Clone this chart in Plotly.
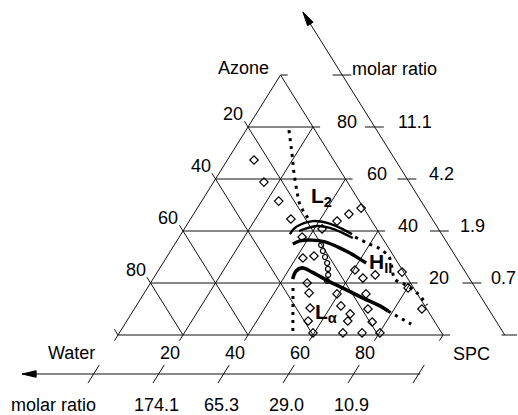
import math
import plotly.graph_objects as go

# ---------------- data (ternary %, Water = 100 - Azone - SPC) ----------------
tick_levels = [0, 20, 40, 60, 80, 100]
water_label_levels = [20, 40, 60, 80]
water_tick_labels = ["20", "40", "60", "80"]
spc_label_levels = [20, 40, 60, 80]
spc_tick_labels = ["20", "40", "60", "80"]
azone_label_levels = [80, 60, 40, 20]
azone_tick_labels = ["80", "60", "40", "20"]
azone_molar_labels = ["11.1", "4.2", "1.9", "0.7"]
spc_molar_labels = ["174.1", "65.3", "29.0", "10.9"]

# open diamonds: measured compositions
diamond_azone = [67.3, 58.8, 51.5, 44.6, 37.7, 40.8, 43.8, 46.5, 48.8,
                 29.6, 30.4, 25.0, 21.9, 23.1, 24.2, 18.1, 10.0,
                 20.0, 16.2, 10.4, 5.4, 0.8, 15.8, 11.2, 8.1, 5.4,
                 0.8, 0.8, 0.8, 10.0, 15.8, 5.0]
diamond_spc = [8.2, 15.5, 23.7, 30.9, 37.8, 42.4, 45.5, 47.8, 50.4,
               42.1, 45.1, 60.4, 64.4, 67.6, 75.3, 80.2, 88.5,
               48.2, 50.7, 53.9, 55.8, 59.6, 59.5, 63.0, 67.4, 68.0,
               68.8, 74.7, 80.2, 71.9, 68.4, 75.7]

# L2 boundary (dotted)
l2_dot_azone = [78.8, 70.0, 62.3, 55.0, 50.0, 46.9, 43.5]
l2_dot_spc = [13.2, 18.5, 23.0, 27.6, 31.0, 34.0, 37.5]
# double boundary line
dbl_top_azone = [38.8, 41.5, 43.8, 43.1, 41.2, 38.8]
dbl_top_spc = [33.5, 34.0, 38.1, 42.8, 47.7, 52.6]
dbl_bot_azone = [40.0, 41.9, 41.2, 39.2, 37.3]
dbl_bot_spc = [35.7, 40.2, 44.6, 49.6, 53.6]
# thick boundaries
mid_azone = [35.0, 36.2, 36.5, 35.8, 33.8, 31.5, 27.7]
mid_spc = [36.3, 37.9, 41.4, 45.8, 50.8, 55.6, 62.5]
low_azone = [21.5, 24.6, 25.8, 24.2, 20.4, 17.3, 14.2, 11.2, 9.2]
low_spc = [43.0, 42.5, 43.7, 47.6, 55.0, 61.8, 68.3, 75.0, 78.5]
low_dot_azone = [9.2, 4.2]
low_dot_spc = [78.5, 88.1]
# L-alpha left boundary (dotted)
la_dot_azone = [18.1, 0.0]
la_dot_spc = [44.8, 53.8]
# HII boundary (dotted)
h_dot_azone = [37.7, 35.4, 33.1, 30.0, 25.8, 21.5, 19.6, 15.8, 11.5]
h_dot_spc = [54.1, 58.9, 64.1, 68.4, 71.4, 74.4, 78.2, 84.4, 89.3]
# chain of small circles
circ_azone = [34.6, 32.3, 30.0, 27.7, 25.4, 23.1, 20.8]
circ_spc = [45.2, 46.9, 48.7, 50.5, 51.9, 53.1, 53.9]

# ---------------- geometry ----------------
FONT = "Liberation Sans, Arial, Helvetica, sans-serif"
W, H = 518, 415
KX, KY = 3.25, 2.6          # pixels per unit
PX0, PY0 = 118.0, 335.0     # pixel of the Water corner


def xy(a, s):
    return s + a / 2.0, a


def tern(a_list, s_list):
    xs, ys = [], []
    for a, s in zip(a_list, s_list):
        x, y = xy(a, s)
        xs.append(x)
        ys.append(y)
    return xs, ys


def ux(px):
    return (px - PX0) / KX


def uy(py):
    return (PY0 - py) / KY


def topx(x, y):
    return PX0 + x * KX, PY0 - y * KY


EXT = 2.2
gx, gy = [], []


def add(p, q, xs=gx, ys=gy):
    xs.extend([p[0], q[0], None])
    ys.extend([p[1], q[1], None])


for lv in tick_levels:
    add(xy(lv, 0), xy(lv, 100 - lv + EXT))            # constant Azone
    if lv > 0:
        add(xy(0, 100 - lv), xy(100 - lv + EXT, -EXT))  # constant Water
    else:
        add(xy(0, 100), xy(100, 0))                    # right edge
    add(xy(100 - lv, lv), xy(-EXT, lv))                # constant SPC

# right molar-ratio axis (parallel to right edge)
RW = -19.0
A_TIP = 124.2
ax_x, ax_y = [], []
p0 = xy(0, 100 - RW)
p1 = xy(A_TIP, 100 - RW - A_TIP)
add(p0, p1, ax_x, ax_y)
for lv in tick_levels:
    xc = xy(lv, 100 - RW - lv)[0]
    if lv == 0:
        add((xc - 1.0, lv), (xc + 3.8, lv), ax_x, ax_y)
    else:
        add((xc - 3.0, lv), (xc + 2.8, lv), ax_x, ax_y)

# bottom molar-ratio axis
AB = -15.0
b0 = xy(AB, 100.5)
b1 = xy(AB, -22.0)
add(b0, b1, ax_x, ax_y)
for lv in tick_levels:
    add(xy(-11.5, lv), xy(-18.5, lv), ax_x, ax_y)


def arrowhead(tip, tail, L=14.0, hw=3.3):
    tx_, ty_ = topx(*tip)
    sx, sy = topx(*tail)
    dx, dy = tx_ - sx, ty_ - sy
    n = math.hypot(dx, dy)
    dx, dy = dx / n, dy / n
    bx, by = tx_ - L * dx, ty_ - L * dy
    px_, py_ = -dy, dx
    pts = [(tx_, ty_), (bx + hw * px_, by + hw * py_), (bx - hw * px_, by - hw * py_), (tx_, ty_)]
    return [ux(p[0]) for p in pts], [uy(p[1]) for p in pts]


fig = go.Figure()
fig.add_trace(go.Scatter(x=gx, y=gy, mode="lines", line=dict(color="#111", width=1), hoverinfo="skip"))
fig.add_trace(go.Scatter(x=ax_x, y=ax_y, mode="lines", line=dict(color="#111", width=1), hoverinfo="skip"))
for tip, tail in [(p1, p0), (b1, b0)]:
    hx, hy = arrowhead(tip, tail)
    fig.add_trace(go.Scatter(x=hx, y=hy, mode="lines", fill="toself", fillcolor="#000",
                             line=dict(color="#000", width=1), hoverinfo="skip"))

DOT = dict(color="#000", width=3, dash="3px,5px")
for a, s in [(l2_dot_azone, l2_dot_spc), (low_dot_azone, low_dot_spc),
             (la_dot_azone, la_dot_spc), (h_dot_azone, h_dot_spc)]:
    x, y = tern(a, s)
    fig.add_trace(go.Scatter(x=x, y=y, mode="lines", line=dict(shape="spline", **DOT), hoverinfo="skip"))

for a, s, w in [(dbl_top_azone, dbl_top_spc, 2.4), (dbl_bot_azone, dbl_bot_spc, 2.4),
                (mid_azone, mid_spc, 3.4), (low_azone, low_spc, 3.6)]:
    x, y = tern(a, s)
    fig.add_trace(go.Scatter(x=x, y=y, mode="lines", line=dict(color="#000", width=w, shape="spline"),
                             hoverinfo="skip"))

x, y = tern(circ_azone, circ_spc)
fig.add_trace(go.Scatter(x=x, y=y, mode="markers",
                         marker=dict(symbol="circle-open", size=5, color="#000", line=dict(width=1.2)),
                         hoverinfo="skip"))

x, y = tern(diamond_azone, diamond_spc)
fig.add_trace(go.Scatter(x=x, y=y, mode="markers",
                         marker=dict(symbol="diamond-open", size=6.5, color="#000", line=dict(width=1.2)),
                         hoverinfo="skip"))

ann = []
F = dict(family=FONT, size=18, color="#000")


def text(x, y, t, xa="center", font=F):
    ann.append(dict(x=x, y=y, text=t, showarrow=False, xanchor=xa, yanchor="middle", font=font))


# left (Water) tick labels
for lv, t in zip(water_label_levels, water_tick_labels):
    x0, y0 = xy(100 - lv, 0)
    text(x0 - 0.9, y0 + 5.0, t, "right")
# bottom (SPC) tick labels
for lv, t in zip(spc_label_levels, spc_tick_labels):
    text(lv - 0.3, uy(353), t, "right")
# right (Azone) tick labels
for lv, t in zip(azone_label_levels, azone_tick_labels):
    x0, y0 = xy(lv, 100 - lv)
    off = (16.5 + (lv - 20) / 60.0 * 5.0) / KX
    text(x0 + off, lv + 2.0, t, "left")
# right molar ratios
for lv, t in zip(azone_label_levels, azone_molar_labels):
    xc = xy(lv, 100 - RW - lv)[0]
    off = (16.5 + (lv - 20) / 60.0 * 5.0) / KX
    text(xc + off, lv + 2.0, t, "left")
# bottom molar ratios
for lv, t in zip(spc_label_levels, spc_molar_labels):
    xc = xy(AB, lv)[0]
    text(xc - 0.8, uy(405), t, "center")

text(ux(216), uy(68), "Azone", "left")
text(ux(350), uy(69), "molar ratio", "left")
text(ux(46), uy(353), "Water", "left")
text(ux(451), uy(354), "SPC", "left")
text(ux(9), uy(405), "molar ratio", "left")

B = dict(family=FONT, size=21, color="#000")
text(ux(321), uy(197), "<b>L<sub>2</sub></b>", "center", B)
text(ux(380), uy(263), "<b>H<sub>II</sub></b>", "center", B)
text(ux(326), uy(313), "<b>L<sub>α</sub></b>", "center", B)

fig.update_layout(
    width=W, height=H, autosize=False,
    margin=dict(l=0, r=0, t=0, b=0, pad=0),
    paper_bgcolor="white", plot_bgcolor="white",
    showlegend=False,
    xaxis=dict(range=[ux(0), ux(W)], visible=False, fixedrange=True),
    yaxis=dict(range=[uy(H), uy(0)], visible=False, fixedrange=True),
    annotations=ann,
)
fig.write_html("out.html", include_plotlyjs=True, full_html=True,
               config={"displayModeBar": False},
               post_script="document.body.style.margin='0';document.body.style.overflow='hidden';")
